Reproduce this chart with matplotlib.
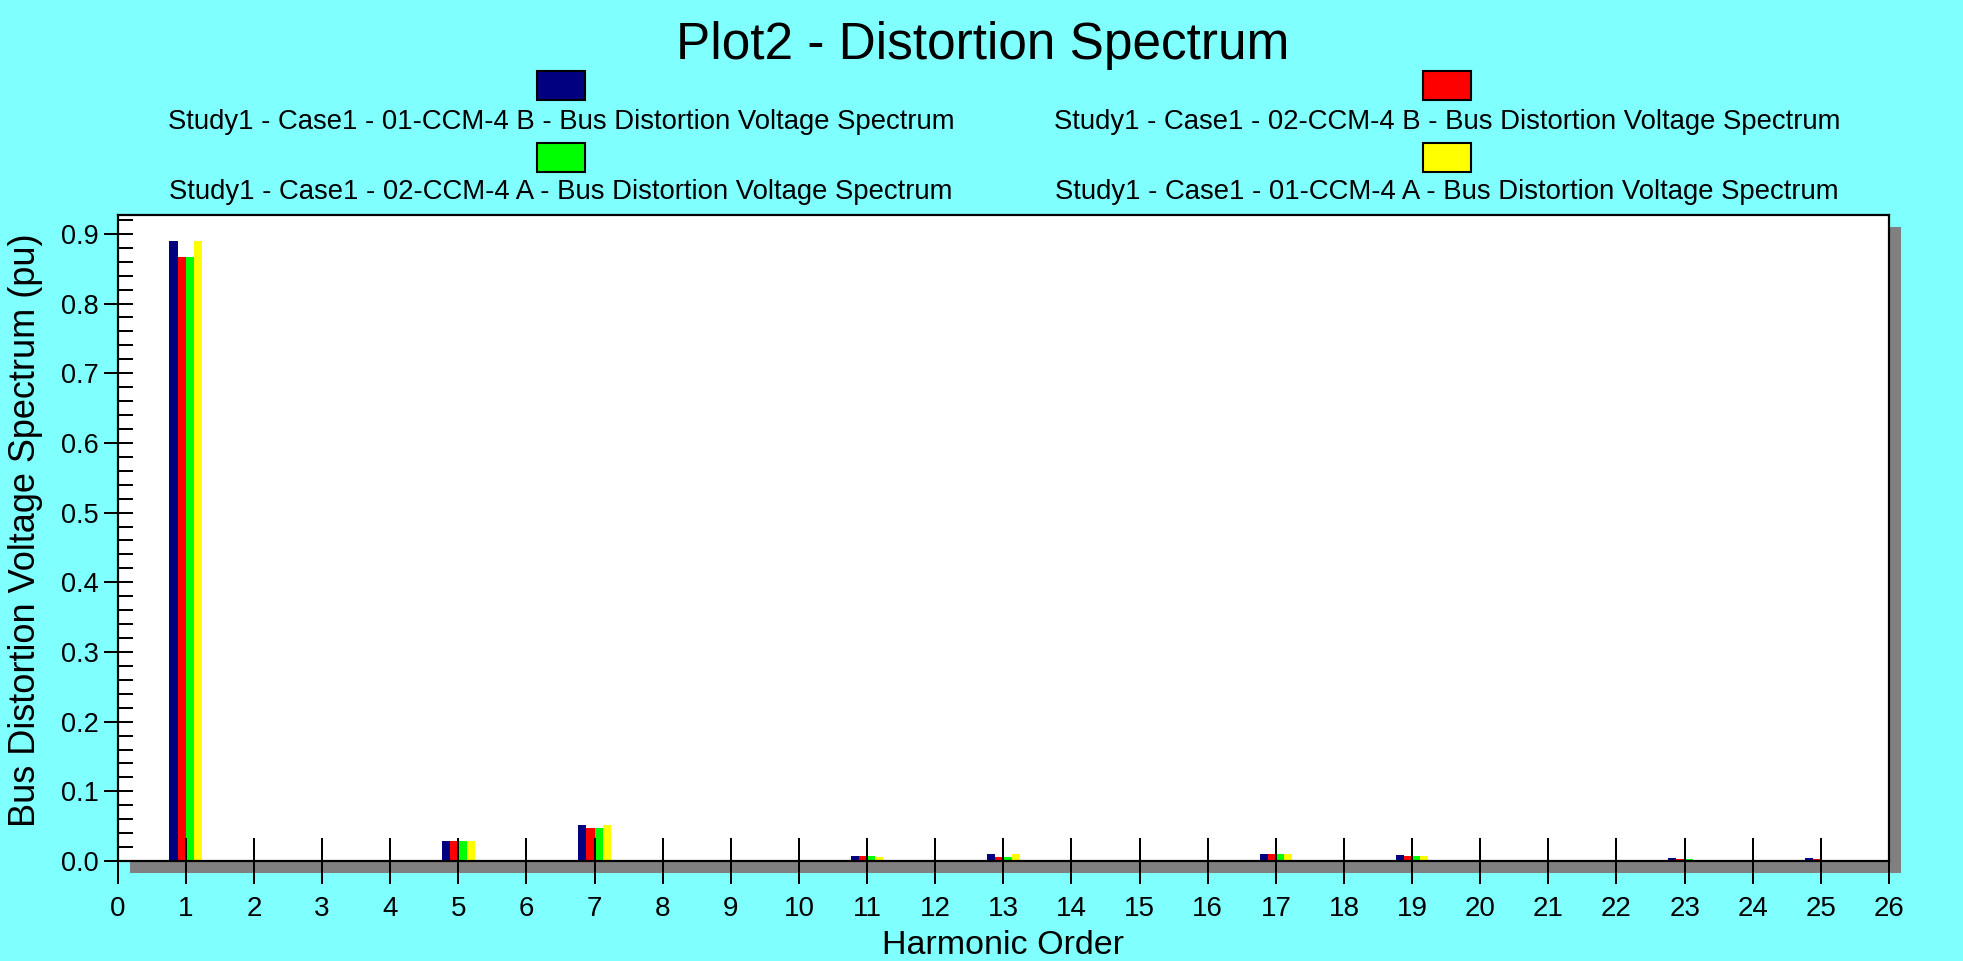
import matplotlib
matplotlib.use("Agg")
import matplotlib.pyplot as plt
from matplotlib.patches import Rectangle
from matplotlib.ticker import MultipleLocator
import numpy as np

plt.rcParams['font.family'] = ["Liberation Sans", "DejaVu Sans"]

# ---- data ----
harmonics = [1, 5, 7, 11, 13, 17, 19, 23, 25]
series_labels = [
    "Study1 - Case1 - 01-CCM-4 B - Bus Distortion Voltage Spectrum",
    "Study1 - Case1 - 02-CCM-4 B - Bus Distortion Voltage Spectrum",
    "Study1 - Case1 - 02-CCM-4 A - Bus Distortion Voltage Spectrum",
    "Study1 - Case1 - 01-CCM-4 A - Bus Distortion Voltage Spectrum",
]
ccm01_b = [0.889, 0.029, 0.052, 0.007, 0.010, 0.010, 0.008, 0.004, 0.004]
ccm02_b = [0.867, 0.029, 0.048, 0.007, 0.006, 0.010, 0.007, 0.003, 0.003]
ccm02_a = [0.867, 0.029, 0.048, 0.007, 0.006, 0.010, 0.007, 0.003, 0.002]
ccm01_a = [0.889, 0.029, 0.051, 0.006, 0.010, 0.010, 0.007, 0.002, 0.002]
series_values = [ccm01_b, ccm02_b, ccm02_a, ccm01_a]
colors = ["#000080", "#ff0000", "#00ff00", "#ffff00"]
x_ticks = list(range(0, 27))
y_ticks = [0.0, 0.1, 0.2, 0.3, 0.4, 0.5, 0.6, 0.7, 0.8, 0.9]

BG = "#80ffff"
W, H = 1963, 961
fig = plt.figure(figsize=(W / 100, H / 100), dpi=100, facecolor=BG)

L, R, T, B = 117.7, 1889.0, 215.0, 861.0
ax = fig.add_axes([L / W, 1 - B / H, (R - L) / W, (B - T) / H])
ax.set_facecolor("white")

# shadow
sh = 12
fig.patches.append(Rectangle(((L + sh) / W, 1 - (B + sh) / H), (R - L) / W, (B - T) / H,
                             transform=fig.transFigure, facecolor="#808080",
                             edgecolor="none", zorder=0))
ax.set_zorder(1)

bw = 0.12
for i, (vals, c) in enumerate(zip(series_values, colors)):
    off = (i - 1.5) * bw
    ax.bar(np.array(harmonics) + off, vals, width=bw, color=c, edgecolor="none", zorder=1)

ax.set_xlim(0, 26)
ax.set_ylim(0, 0.927)
ax.set_xticks(x_ticks)
ax.set_xticklabels([str(t) for t in x_ticks])
ax.set_yticks(y_ticks)
ax.set_yticklabels([f"{t:.1f}" for t in y_ticks])
ax.yaxis.set_minor_locator(MultipleLocator(0.02))

px = 72 / 100
ax.tick_params(axis="x", which="major", direction="inout", length=47 * px, width=2 * px,
               labelsize=20, pad=8, colors="black")
ax.tick_params(axis="y", which="major", direction="inout", length=29 * px, width=2 * px,
               labelsize=19.5, pad=3)
ax.tick_params(axis="y", which="minor", direction="in", length=15 * px, width=2 * px)
for s in ax.spines.values():
    s.set_linewidth(2.2 * px)
    s.set_color("black")

ax.set_xlabel("Harmonic Order", fontsize=24.5, labelpad=6)
ax.set_ylabel("Bus Distortion Voltage Spectrum (pu)", fontsize=26)
ax.yaxis.set_label_coords(-0.042, 0.512)

fig.text(983 / W, 1 - 46 / H, "Plot2 - Distortion Spectrum", fontsize=37,
         ha="center", va="center")

# legend
col_x = [561, 1447]
sw_top = [71, 143]
txt_y = [122, 192]
for i, (lab, c) in enumerate(zip(series_labels, colors)):
    r, cl = divmod(i, 2)
    cx = col_x[cl]
    fig.patches.append(Rectangle(((cx - 24) / W, 1 - (sw_top[r] + 29) / H), 48 / W, 29 / H,
                                 transform=fig.transFigure, facecolor=c,
                                 edgecolor="black", linewidth=1.5))
    fig.text(cx / W, 1 - txt_y[r] / H, lab, fontsize=19.8, ha="center", va="center")

fig.savefig("out.png", dpi=100, facecolor=BG)
